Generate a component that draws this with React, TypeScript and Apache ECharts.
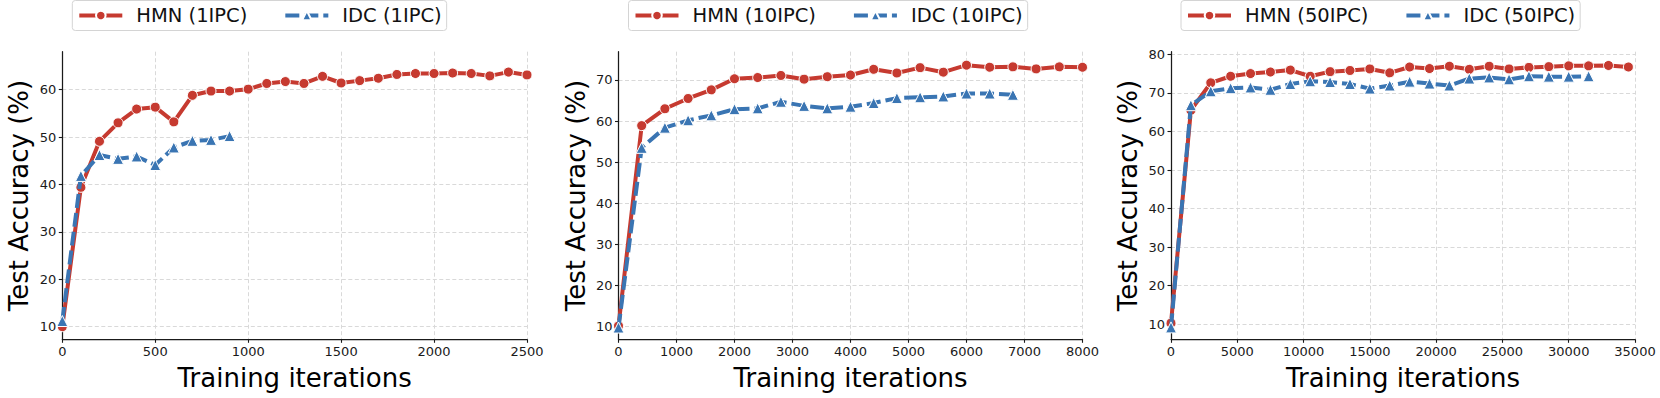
import React, { useEffect, useRef } from "react";
import * as echarts from "echarts";

// ---------- data ----------
const HMN1_X = [0, 100, 200, 300, 400, 500, 600, 700, 800, 900, 1000, 1100, 1200, 1300, 1400, 1500, 1600, 1700, 1800, 1900, 2000, 2100, 2200, 2300, 2400, 2500];
const HMN1_Y = [10.0, 39.4, 49.1, 53.0, 55.9, 56.3, 53.2, 58.8, 59.7, 59.7, 60.1, 61.3, 61.7, 61.3, 62.8, 61.4, 61.9, 62.4, 63.2, 63.4, 63.4, 63.5, 63.4, 62.9, 63.7, 63.1];
const IDC1_X = [0, 100, 200, 300, 400, 500, 600, 700, 800, 900];
const IDC1_Y = [11.2, 41.8, 46.2, 45.4, 45.9, 44.1, 47.8, 49.2, 49.4, 50.2];

const HMN10_X = [0, 400, 800, 1200, 1600, 2000, 2400, 2800, 3200, 3600, 4000, 4400, 4800, 5200, 5600, 6000, 6400, 6800, 7200, 7600, 8000];
const HMN10_Y = [10.2, 58.9, 63.0, 65.5, 67.6, 70.3, 70.6, 71.1, 70.2, 70.8, 71.2, 72.6, 71.7, 73.0, 71.9, 73.6, 73.1, 73.2, 72.7, 73.2, 73.1];
const IDC10_X = [0, 400, 800, 1200, 1600, 2000, 2400, 2800, 3200, 3600, 4000, 4400, 4800, 5200, 5600, 6000, 6400, 6800];
const IDC10_Y = [9.8, 53.5, 58.4, 60.2, 61.4, 62.9, 63.1, 64.7, 63.7, 63.1, 63.5, 64.4, 65.6, 65.8, 66.0, 66.7, 66.7, 66.4];

const HMN50_X = [0, 1500, 3000, 4500, 6000, 7500, 9000, 10500, 12000, 13500, 15000, 16500, 18000, 19500, 21000, 22500, 24000, 25500, 27000, 28500, 30000, 31500, 33000, 34500];
const HMN50_Y = [10.3, 65.5, 72.6, 74.3, 75.0, 75.4, 75.9, 74.3, 75.5, 75.8, 76.2, 75.2, 76.7, 76.3, 76.9, 76.1, 76.9, 76.2, 76.6, 76.8, 77.0, 77.0, 77.1, 76.7];
const IDC50_X = [0, 1500, 3000, 4500, 6000, 7500, 9000, 10500, 12000, 13500, 15000, 16500, 18000, 19500, 21000, 22500, 24000, 25500, 27000, 28500, 30000, 31500];
const IDC50_Y = [9.2, 66.8, 70.4, 71.2, 71.4, 70.8, 72.3, 73.0, 72.8, 72.3, 71.1, 71.9, 72.9, 72.4, 71.9, 73.7, 74.0, 73.5, 74.3, 74.2, 74.2, 74.3];

const Y1_TICKS = [10, 20, 30, 40, 50, 60];
const Y10_TICKS = [10, 20, 30, 40, 50, 60, 70];
const Y50_TICKS = [10, 20, 30, 40, 50, 60, 70, 80];

const SERIES_NAMES = [
  ["HMN (1IPC)", "IDC (1IPC)"],
  ["HMN (10IPC)", "IDC (10IPC)"],
  ["HMN (50IPC)", "IDC (50IPC)"],
];
const X_TITLE = "Training iterations";
const Y_TITLE = "Test Accuracy (%)";

// ---------- style ----------
const RED = "#c63a30";
const BLUE = "#3a75b3";
const FONT = "DejaVu Sans";
const INK = "#1a1a1a";
const GRID_TOP = 51.7;
const GRID_H = 287.6;

const PANELS = [
  { left: 62.3, width: 464.7, xMax: 2500, xInt: 500, yMin: 7.34, yMax: 68.0, yTicks: Y1_TICKS, hx: HMN1_X, hy: HMN1_Y, ix: IDC1_X, iy: IDC1_Y },
  { left: 618.5, width: 464, xMax: 8000, xInt: 1000, yMin: 6.94, yMax: 76.88, yTicks: Y10_TICKS, hx: HMN10_X, hy: HMN10_Y, ix: IDC10_X, iy: IDC10_Y },
  { left: 1171, width: 464, xMax: 35000, xInt: 5000, yMin: 6.11, yMax: 80.67, yTicks: Y50_TICKS, hx: HMN50_X, hy: HMN50_Y, ix: IDC50_X, iy: IDC50_Y },
];

const zip = (xs: number[], ys: number[]) => xs.map((x, i) => [x, ys[i]]);

export default function App() {
  const ref = useRef<HTMLDivElement>(null);
  useEffect(() => {
    document.body.style.margin = "0";
    const chart = echarts.init(ref.current!, null, { renderer: "svg" });

    const grid: any[] = [];
    const xAxis: any[] = [];
    const yAxis: any[] = [];
    const legend: any[] = [];
    const series: any[] = [];

    PANELS.forEach((p, i) => {
      grid.push({ left: p.left, top: GRID_TOP, width: p.width, height: GRID_H });
      xAxis.push({
        type: "value",
        gridIndex: i,
        min: 0,
        max: p.xMax,
        interval: p.xInt,
        name: X_TITLE,
        nameLocation: "middle",
        nameGap: 25.5,
        nameTextStyle: { fontSize: 26, fontFamily: FONT, color: "#000" },
        axisLine: { show: true, onZero: false, lineStyle: { color: INK, width: 1.25 } },
        axisTick: { show: true, length: 3.5, lineStyle: { color: INK, width: 1.1 } },
        axisLabel: {
          fontSize: 13,
          fontFamily: FONT,
          color: INK,
          margin: 6,
          showMinLabel: true,
          showMaxLabel: true,
          hideOverlap: false,
          formatter: (v: number) => String(v),
        },
        splitLine: { show: true, lineStyle: { color: "#d9d9d9", width: 1, type: [4, 2.5] } },
      });
      yAxis.push({
        type: "value",
        gridIndex: i,
        min: p.yMin,
        max: p.yMax,
        name: Y_TITLE,
        nameLocation: "middle",
        nameRotate: 90,
        nameGap: 30,
        nameTextStyle: { fontSize: 26, fontFamily: FONT, color: "#000" },
        axisLine: { show: true, lineStyle: { color: INK, width: 1.25 } },
        axisTick: { show: true, length: 3.5, customValues: p.yTicks, lineStyle: { color: INK, width: 1.1 } },
        axisLabel: { fontSize: 13, fontFamily: FONT, color: INK, margin: 6, customValues: p.yTicks, formatter: (v: number) => String(v) },
        splitLine: { show: true, lineStyle: { color: "#d9d9d9", width: 1, type: [4, 2.5] } },
      });
      legend.push({
        data: SERIES_NAMES[i],
        left: p.left + 10,
        top: 0.5,
        orient: "horizontal",
        itemWidth: 43,
        itemHeight: 12,
        itemGap: 36,
        padding: [5, 5],
        borderColor: "#d4d4d4",
        borderWidth: 1,
        borderRadius: 3,
        backgroundColor: "#fff",
        lineStyle: { width: 4 },
        textStyle: { fontSize: 19.5, fontFamily: FONT, color: "#111", padding: [0, 0, 0, 9] },
      });
      series.push({
        type: "line",
        name: SERIES_NAMES[i][0],
        xAxisIndex: i,
        yAxisIndex: i,
        data: zip(p.hx, p.hy),
        symbol: "circle",
        symbolSize: 10,
        showAllSymbol: true,
        silent: true,
        itemStyle: { color: RED, borderColor: "#fff", borderWidth: 1 },
        lineStyle: { color: RED, width: 4, type: "solid" },
        z: 2,
      });
      series.push({
        type: "line",
        name: SERIES_NAMES[i][1],
        xAxisIndex: i,
        yAxisIndex: i,
        data: zip(p.ix, p.iy),
        symbol: "triangle",
        symbolSize: 11,
        showAllSymbol: true,
        silent: true,
        itemStyle: { color: BLUE, borderColor: "#fff", borderWidth: 1 },
        lineStyle: { color: BLUE, width: 4, type: [14, 5] },
        z: 3,
      });
    });

    chart.setOption({
      animation: false,
      backgroundColor: "#fff",
      textStyle: { fontFamily: FONT },
      grid,
      xAxis,
      yAxis,
      legend,
      series,
    });
    return () => chart.dispose();
  }, []);
  return <div ref={ref} style={{ width: 1660, height: 398 }} />;
}
